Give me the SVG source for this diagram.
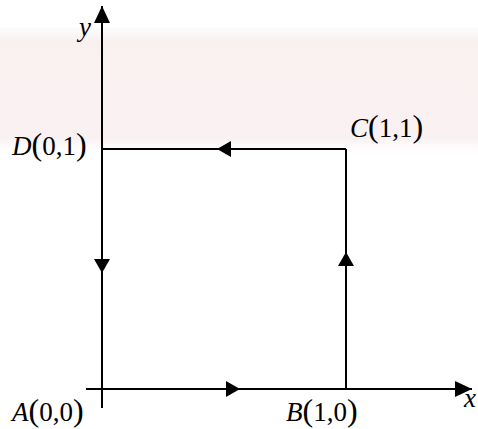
<svg xmlns="http://www.w3.org/2000/svg" width="478" height="429" viewBox="0 0 478 429">
  <style>
    .ln { stroke: #000; stroke-width: 2; fill: none; }
    .lbl { font-family: "Liberation Serif", "Times New Roman", serif; font-size: 27px; fill: #000; }
    .it { font-style: italic; }
    .p { font-size: 32px; }
  </style>
  <defs>
    <linearGradient id="band" x1="0" y1="0" x2="0" y2="1">
      <stop offset="0" stop-color="#f8f8f8" stop-opacity="0.5"/>
      <stop offset="0.1" stop-color="#f9f0f0"/>
      <stop offset="0.85" stop-color="#faf2f2"/>
      <stop offset="1" stop-color="#ffffff" stop-opacity="0"/>
    </linearGradient>
    <marker id="mid" markerUnits="userSpaceOnUse" viewBox="0 0 14 16" refX="14" refY="8" markerWidth="14" markerHeight="16" orient="auto">
      <path d="M0,0 L14,8 L0,16 Z" fill="#000"/>
    </marker>
    <marker id="axis" markerUnits="userSpaceOnUse" viewBox="0 0 17 16" refX="17" refY="8" markerWidth="17" markerHeight="16" orient="auto">
      <path d="M0,0 L17,8 L0,16 Z" fill="#000"/>
    </marker>
  </defs>
  <rect x="0" y="0" width="478" height="429" fill="#fff"/>
  <rect x="0" y="28" width="478" height="130" fill="url(#band)"/>

  <g id="axes">
    <line class="ln" x1="86" y1="389" x2="472" y2="389" marker-end="url(#axis)"/>
    <line class="ln" x1="102" y1="408" x2="102" y2="6" marker-end="url(#axis)"/>
    <text class="lbl it" x="79" y="36">y</text>
    <text class="lbl it" x="464" y="407">x</text>
  </g>

  <g id="connectors">
    <path class="ln" d="M102,389 L240,389 L346,389" marker-mid="url(#mid)"/>
    <path class="ln" d="M346,389 L346,252 L346,149" marker-mid="url(#mid)"/>
    <path class="ln" d="M346,149 L217,149 L102,149" marker-mid="url(#mid)"/>
    <path class="ln" d="M102,149 L102,273 L102,389" marker-mid="url(#mid)"/>
  </g>

  <g id="A">
    <text class="lbl" x="12" y="421"><tspan class="it">A</tspan><tspan class="p">(</tspan>0,0<tspan class="p">)</tspan></text>
  </g>
  <g id="B">
    <text class="lbl" x="286" y="421"><tspan class="it">B</tspan><tspan class="p">(</tspan>1,0<tspan class="p">)</tspan></text>
  </g>
  <g id="C">
    <text class="lbl" x="350" y="137"><tspan class="it">C</tspan><tspan class="p">(</tspan>1,1<tspan class="p">)</tspan></text>
  </g>
  <g id="D">
    <text class="lbl" x="12" y="155"><tspan class="it">D</tspan><tspan class="p">(</tspan>0,1<tspan class="p">)</tspan></text>
  </g>
</svg>
